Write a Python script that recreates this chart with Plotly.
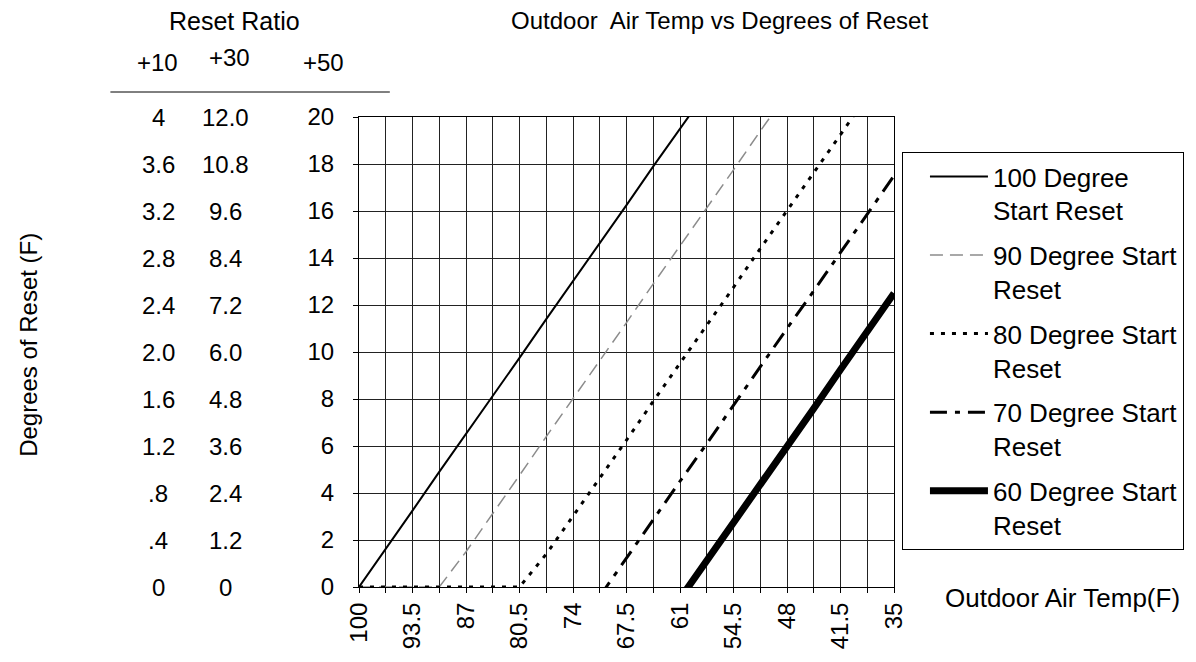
import plotly.graph_objects as go

# ---------------- data ----------------
outdoor_temp = [100, 96.75, 93.5, 90.25, 87, 83.75, 80.5, 77.25, 74, 70.75,
                67.5, 64.25, 61, 57.75, 54.5, 51.25, 48, 44.75, 41.5, 38.25, 35]

reset_100 = [0, 1.6, 3.25, 4.9, 6.5, 8.1, 9.75, 11.4, 13, 14.6,
             16.25, 17.9, 19.5, 21.1, None, None, None, None, None, None, None]
reset_90 = [0, 0, 0, 0, 1.5, 3.1, 4.75, 6.4, 8, 9.6,
            11.25, 12.9, 14.5, 16.1, 17.75, 19.4, 21, None, None, None, None]
reset_80 = [0, 0, 0, 0, 0, 0, 0, 1.4, 3, 4.6,
            6.25, 7.9, 9.5, 11.1, 12.75, 14.4, 16, 17.6, 19.25, 20.9, None]
reset_70 = [None, None, None, None, None, None, None, None, None, -0.4,
            1.25, 2.9, 4.5, 6.1, 7.75, 9.4, 11, 12.6, 14.25, 15.9, 17.5]
reset_60 = [None, None, None, None, None, None, None, None, None, None,
            None, None, -0.5, 1.1, 2.75, 4.4, 6, 7.6, 9.25, 10.9, 12.5]

series_names = ["100 Degree<br>Start Reset", "90 Degree Start<br>Reset",
                "80 Degree Start<br>Reset", "70 Degree Start<br>Reset",
                "60 Degree Start<br>Reset"]

x_tick_values = [100, 93.5, 87, 80.5, 74, 67.5, 61, 54.5, 48, 41.5, 35]
x_tick_labels = ["100", "93.5", "87", "80.5", "74", "67.5", "61", "54.5", "48", "41.5", "35"]

y_tick_values = [0, 2, 4, 6, 8, 10, 12, 14, 16, 18, 20]
y_tick_labels = ["0", "2", "4", "6", "8", "10", "12", "14", "16", "18", "20"]
ratio_10 = ["0", ".4", ".8", "1.2", "1.6", "2.0", "2.4", "2.8", "3.2", "3.6", "4"]
ratio_30 = ["0", "1.2", "2.4", "3.6", "4.8", "6.0", "7.2", "8.4", "9.6", "10.8", "12.0"]

# ---------------- styling ----------------
FONT = "Liberation Sans, Arial, sans-serif"
W, H = 1196, 662
PL, PR, PT, PB = 359, 897, 117, 587  # plot area in px
FS = 24


def px(xp, yp):
    return (xp - PL) / (PR - PL), (PB - yp) / (PB - PT)


styles = [
    dict(color="black", width=2, dash="solid"),
    dict(color="#8c8c8c", width=1.5, dash="13px,7px"),
    dict(color="black", width=3, dash="4px,7px"),
    dict(color="black", width=3, dash="17px,8px,5px,8px"),
    dict(color="black", width=7, dash="solid"),
]
series = [reset_100, reset_90, reset_80, reset_70, reset_60]

fig = go.Figure()
for name, vals, st in zip(series_names, series, styles):
    fig.add_trace(go.Scatter(x=outdoor_temp, y=vals, mode="lines", name=name,
                             line=st, legendgroup=name, connectgaps=False))

fig.update_layout(
    width=W, height=H,
    margin=dict(l=PL, r=W - PR, t=PT, b=H - PB, pad=0),
    paper_bgcolor="white", plot_bgcolor="white",
    font=dict(family=FONT, size=FS, color="black"),
    showlegend=True,
    legend=dict(x=px(905, 0)[0], y=px(0, 152)[1], xanchor="left", yanchor="top",
                bordercolor="black", borderwidth=1, bgcolor="white",
                font=dict(size=26), itemwidth=58, indentation=22,
                tracegroupgap=8, traceorder="grouped", valign="top"),
)

fig.update_xaxes(
    range=[100, 35], tickmode="array", tickvals=x_tick_values, ticktext=x_tick_labels,
    tickangle=-90, showline=True, mirror=True, linecolor="black", linewidth=1,
    showgrid=True, gridcolor="#222", gridwidth=1, zeroline=False,
    ticks="outside", ticklen=5, tickcolor="black",
    minor=dict(tickmode="array", tickvals=outdoor_temp, showgrid=True,
               gridcolor="#222", gridwidth=1, ticks="outside", ticklen=5, tickcolor="black"),
    tickfont=dict(size=FS),
)
fig.update_yaxes(
    range=[0, 20], tickmode="array", tickvals=y_tick_values, ticktext=y_tick_labels,
    showline=True, mirror=True, linecolor="black", linewidth=1,
    showgrid=True, gridcolor="#222", gridwidth=1, zeroline=False,
    ticks="outside", ticklen=5, tickcolor="black", tickfont=dict(size=FS),
    ticklabelstandoff=14,
)

ann = []
def add_text(text, xp, yp, size=FS, angle=0, xanchor="center"):
    xx, yy = px(xp, yp)
    ann.append(dict(text=text, x=xx, y=yy, xref="paper", yref="paper",
                    showarrow=False, font=dict(size=size, family=FONT, color="black"),
                    xanchor=xanchor, yanchor="middle", textangle=angle))

add_text("Reset Ratio", 234, 21, size=25)
add_text("+10", 156, 62)
add_text("+30", 229, 57)
add_text("+50", 323, 62)
add_text("Outdoor  Air Temp vs Degrees of Reset", 722, 21, size=24)
add_text("Degrees of Reset (F)", 26, 345, size=24, angle=-90)
add_text("Outdoor Air Temp(F)", 1066, 598, size=26)

for v, a, b in zip(y_tick_values, ratio_10, ratio_30):
    ann.append(dict(text=a, x=px(157, 0)[0], y=v, xref="paper", yref="y", showarrow=False,
                    font=dict(size=FS, family=FONT), xanchor="center", yanchor="middle"))
    ann.append(dict(text=b, x=px(225, 0)[0], y=v, xref="paper", yref="y", showarrow=False,
                    font=dict(size=FS, family=FONT), xanchor="center", yanchor="middle"))

fig.update_layout(annotations=ann)

x0, y0 = px(109, 92)
x1, _ = px(390, 92)
fig.add_shape(type="line", xref="paper", yref="paper", x0=x0, x1=x1, y0=y0, y1=y0,
              line=dict(color="black", width=1))

fig.write_html("out.html", config={"displayModeBar": False},
               post_script="document.body.style.margin='0px';")
